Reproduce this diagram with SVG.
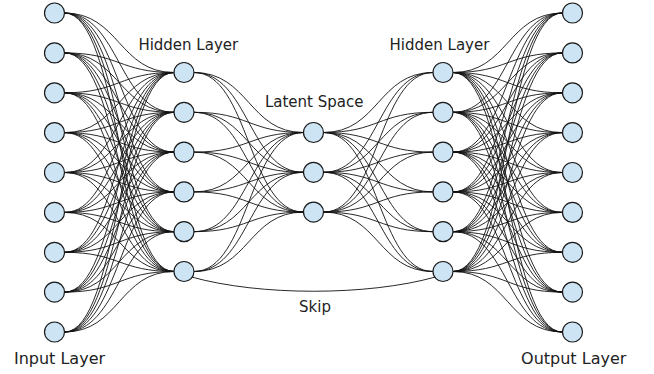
<svg xmlns="http://www.w3.org/2000/svg" width="654" height="374" viewBox="0 0 654 374">
<style>
.node{fill:#cde4f5;stroke:#1a1a1a;stroke-width:1.2}
.edge{fill:none;stroke:#111;stroke-width:0.9}
.lbl{font-family:"DejaVu Sans",Verdana,sans-serif;font-size:15px;fill:#222;text-anchor:middle}
.big{font-size:16px}
</style>
<rect width="654" height="374" fill="#fff"/>
<g id="connectors">
<path class="edge" d="M64.5 13C119.2 13 119.2 72.5 174 72.5"/>
<path class="edge" d="M64.5 13C119.2 13 119.2 112.3 174 112.3"/>
<path class="edge" d="M64.5 13C119.2 13 119.2 152.1 174 152.1"/>
<path class="edge" d="M64.5 13C119.2 13 119.2 191.9 174 191.9"/>
<path class="edge" d="M64.5 13C119.2 13 119.2 231.7 174 231.7"/>
<path class="edge" d="M64.5 13C119.2 13 119.2 271.5 174 271.5"/>
<path class="edge" d="M64.5 52.9C119.2 52.9 119.2 72.5 174 72.5"/>
<path class="edge" d="M64.5 52.9C119.2 52.9 119.2 112.3 174 112.3"/>
<path class="edge" d="M64.5 52.9C119.2 52.9 119.2 152.1 174 152.1"/>
<path class="edge" d="M64.5 52.9C119.2 52.9 119.2 191.9 174 191.9"/>
<path class="edge" d="M64.5 52.9C119.2 52.9 119.2 231.7 174 231.7"/>
<path class="edge" d="M64.5 52.9C119.2 52.9 119.2 271.5 174 271.5"/>
<path class="edge" d="M64.5 92.8C119.2 92.8 119.2 72.5 174 72.5"/>
<path class="edge" d="M64.5 92.8C119.2 92.8 119.2 112.3 174 112.3"/>
<path class="edge" d="M64.5 92.8C119.2 92.8 119.2 152.1 174 152.1"/>
<path class="edge" d="M64.5 92.8C119.2 92.8 119.2 191.9 174 191.9"/>
<path class="edge" d="M64.5 92.8C119.2 92.8 119.2 231.7 174 231.7"/>
<path class="edge" d="M64.5 92.8C119.2 92.8 119.2 271.5 174 271.5"/>
<path class="edge" d="M64.5 132.6C119.2 132.6 119.2 72.5 174 72.5"/>
<path class="edge" d="M64.5 132.6C119.2 132.6 119.2 112.3 174 112.3"/>
<path class="edge" d="M64.5 132.6C119.2 132.6 119.2 152.1 174 152.1"/>
<path class="edge" d="M64.5 132.6C119.2 132.6 119.2 191.9 174 191.9"/>
<path class="edge" d="M64.5 132.6C119.2 132.6 119.2 231.7 174 231.7"/>
<path class="edge" d="M64.5 132.6C119.2 132.6 119.2 271.5 174 271.5"/>
<path class="edge" d="M64.5 172.5C119.2 172.5 119.2 72.5 174 72.5"/>
<path class="edge" d="M64.5 172.5C119.2 172.5 119.2 112.3 174 112.3"/>
<path class="edge" d="M64.5 172.5C119.2 172.5 119.2 152.1 174 152.1"/>
<path class="edge" d="M64.5 172.5C119.2 172.5 119.2 191.9 174 191.9"/>
<path class="edge" d="M64.5 172.5C119.2 172.5 119.2 231.7 174 231.7"/>
<path class="edge" d="M64.5 172.5C119.2 172.5 119.2 271.5 174 271.5"/>
<path class="edge" d="M64.5 212.4C119.2 212.4 119.2 72.5 174 72.5"/>
<path class="edge" d="M64.5 212.4C119.2 212.4 119.2 112.3 174 112.3"/>
<path class="edge" d="M64.5 212.4C119.2 212.4 119.2 152.1 174 152.1"/>
<path class="edge" d="M64.5 212.4C119.2 212.4 119.2 191.9 174 191.9"/>
<path class="edge" d="M64.5 212.4C119.2 212.4 119.2 231.7 174 231.7"/>
<path class="edge" d="M64.5 212.4C119.2 212.4 119.2 271.5 174 271.5"/>
<path class="edge" d="M64.5 252.3C119.2 252.3 119.2 72.5 174 72.5"/>
<path class="edge" d="M64.5 252.3C119.2 252.3 119.2 112.3 174 112.3"/>
<path class="edge" d="M64.5 252.3C119.2 252.3 119.2 152.1 174 152.1"/>
<path class="edge" d="M64.5 252.3C119.2 252.3 119.2 191.9 174 191.9"/>
<path class="edge" d="M64.5 252.3C119.2 252.3 119.2 231.7 174 231.7"/>
<path class="edge" d="M64.5 252.3C119.2 252.3 119.2 271.5 174 271.5"/>
<path class="edge" d="M64.5 292.1C119.2 292.1 119.2 72.5 174 72.5"/>
<path class="edge" d="M64.5 292.1C119.2 292.1 119.2 112.3 174 112.3"/>
<path class="edge" d="M64.5 292.1C119.2 292.1 119.2 152.1 174 152.1"/>
<path class="edge" d="M64.5 292.1C119.2 292.1 119.2 191.9 174 191.9"/>
<path class="edge" d="M64.5 292.1C119.2 292.1 119.2 231.7 174 231.7"/>
<path class="edge" d="M64.5 292.1C119.2 292.1 119.2 271.5 174 271.5"/>
<path class="edge" d="M64.5 332C119.2 332 119.2 72.5 174 72.5"/>
<path class="edge" d="M64.5 332C119.2 332 119.2 112.3 174 112.3"/>
<path class="edge" d="M64.5 332C119.2 332 119.2 152.1 174 152.1"/>
<path class="edge" d="M64.5 332C119.2 332 119.2 191.9 174 191.9"/>
<path class="edge" d="M64.5 332C119.2 332 119.2 231.7 174 231.7"/>
<path class="edge" d="M64.5 332C119.2 332 119.2 271.5 174 271.5"/>
<path class="edge" d="M194 72.5C248.8 72.5 248.8 132.5 303.5 132.5"/>
<path class="edge" d="M194 72.5C248.8 72.5 248.8 172.3 303.5 172.3"/>
<path class="edge" d="M194 72.5C248.8 72.5 248.8 212.1 303.5 212.1"/>
<path class="edge" d="M194 112.3C248.8 112.3 248.8 132.5 303.5 132.5"/>
<path class="edge" d="M194 112.3C248.8 112.3 248.8 172.3 303.5 172.3"/>
<path class="edge" d="M194 112.3C248.8 112.3 248.8 212.1 303.5 212.1"/>
<path class="edge" d="M194 152.1C248.8 152.1 248.8 132.5 303.5 132.5"/>
<path class="edge" d="M194 152.1C248.8 152.1 248.8 172.3 303.5 172.3"/>
<path class="edge" d="M194 152.1C248.8 152.1 248.8 212.1 303.5 212.1"/>
<path class="edge" d="M194 191.9C248.8 191.9 248.8 132.5 303.5 132.5"/>
<path class="edge" d="M194 191.9C248.8 191.9 248.8 172.3 303.5 172.3"/>
<path class="edge" d="M194 191.9C248.8 191.9 248.8 212.1 303.5 212.1"/>
<path class="edge" d="M194 231.7C248.8 231.7 248.8 132.5 303.5 132.5"/>
<path class="edge" d="M194 231.7C248.8 231.7 248.8 172.3 303.5 172.3"/>
<path class="edge" d="M194 231.7C248.8 231.7 248.8 212.1 303.5 212.1"/>
<path class="edge" d="M194 271.5C248.8 271.5 248.8 132.5 303.5 132.5"/>
<path class="edge" d="M194 271.5C248.8 271.5 248.8 172.3 303.5 172.3"/>
<path class="edge" d="M194 271.5C248.8 271.5 248.8 212.1 303.5 212.1"/>
<path class="edge" d="M323.5 132.5C378.3 132.5 378.3 72.5 433 72.5"/>
<path class="edge" d="M323.5 132.5C378.3 132.5 378.3 112.3 433 112.3"/>
<path class="edge" d="M323.5 132.5C378.3 132.5 378.3 152.1 433 152.1"/>
<path class="edge" d="M323.5 132.5C378.3 132.5 378.3 191.9 433 191.9"/>
<path class="edge" d="M323.5 132.5C378.3 132.5 378.3 231.7 433 231.7"/>
<path class="edge" d="M323.5 132.5C378.3 132.5 378.3 271.5 433 271.5"/>
<path class="edge" d="M323.5 172.3C378.3 172.3 378.3 72.5 433 72.5"/>
<path class="edge" d="M323.5 172.3C378.3 172.3 378.3 112.3 433 112.3"/>
<path class="edge" d="M323.5 172.3C378.3 172.3 378.3 152.1 433 152.1"/>
<path class="edge" d="M323.5 172.3C378.3 172.3 378.3 191.9 433 191.9"/>
<path class="edge" d="M323.5 172.3C378.3 172.3 378.3 231.7 433 231.7"/>
<path class="edge" d="M323.5 172.3C378.3 172.3 378.3 271.5 433 271.5"/>
<path class="edge" d="M323.5 212.1C378.3 212.1 378.3 72.5 433 72.5"/>
<path class="edge" d="M323.5 212.1C378.3 212.1 378.3 112.3 433 112.3"/>
<path class="edge" d="M323.5 212.1C378.3 212.1 378.3 152.1 433 152.1"/>
<path class="edge" d="M323.5 212.1C378.3 212.1 378.3 191.9 433 191.9"/>
<path class="edge" d="M323.5 212.1C378.3 212.1 378.3 231.7 433 231.7"/>
<path class="edge" d="M323.5 212.1C378.3 212.1 378.3 271.5 433 271.5"/>
<path class="edge" d="M453 72.5C507.8 72.5 507.8 13 562.5 13"/>
<path class="edge" d="M453 72.5C507.8 72.5 507.8 52.9 562.5 52.9"/>
<path class="edge" d="M453 72.5C507.8 72.5 507.8 92.8 562.5 92.8"/>
<path class="edge" d="M453 72.5C507.8 72.5 507.8 132.6 562.5 132.6"/>
<path class="edge" d="M453 72.5C507.8 72.5 507.8 172.5 562.5 172.5"/>
<path class="edge" d="M453 72.5C507.8 72.5 507.8 212.4 562.5 212.4"/>
<path class="edge" d="M453 72.5C507.8 72.5 507.8 252.3 562.5 252.3"/>
<path class="edge" d="M453 72.5C507.8 72.5 507.8 292.1 562.5 292.1"/>
<path class="edge" d="M453 72.5C507.8 72.5 507.8 332 562.5 332"/>
<path class="edge" d="M453 112.3C507.8 112.3 507.8 13 562.5 13"/>
<path class="edge" d="M453 112.3C507.8 112.3 507.8 52.9 562.5 52.9"/>
<path class="edge" d="M453 112.3C507.8 112.3 507.8 92.8 562.5 92.8"/>
<path class="edge" d="M453 112.3C507.8 112.3 507.8 132.6 562.5 132.6"/>
<path class="edge" d="M453 112.3C507.8 112.3 507.8 172.5 562.5 172.5"/>
<path class="edge" d="M453 112.3C507.8 112.3 507.8 212.4 562.5 212.4"/>
<path class="edge" d="M453 112.3C507.8 112.3 507.8 252.3 562.5 252.3"/>
<path class="edge" d="M453 112.3C507.8 112.3 507.8 292.1 562.5 292.1"/>
<path class="edge" d="M453 112.3C507.8 112.3 507.8 332 562.5 332"/>
<path class="edge" d="M453 152.1C507.8 152.1 507.8 13 562.5 13"/>
<path class="edge" d="M453 152.1C507.8 152.1 507.8 52.9 562.5 52.9"/>
<path class="edge" d="M453 152.1C507.8 152.1 507.8 92.8 562.5 92.8"/>
<path class="edge" d="M453 152.1C507.8 152.1 507.8 132.6 562.5 132.6"/>
<path class="edge" d="M453 152.1C507.8 152.1 507.8 172.5 562.5 172.5"/>
<path class="edge" d="M453 152.1C507.8 152.1 507.8 212.4 562.5 212.4"/>
<path class="edge" d="M453 152.1C507.8 152.1 507.8 252.3 562.5 252.3"/>
<path class="edge" d="M453 152.1C507.8 152.1 507.8 292.1 562.5 292.1"/>
<path class="edge" d="M453 152.1C507.8 152.1 507.8 332 562.5 332"/>
<path class="edge" d="M453 191.9C507.8 191.9 507.8 13 562.5 13"/>
<path class="edge" d="M453 191.9C507.8 191.9 507.8 52.9 562.5 52.9"/>
<path class="edge" d="M453 191.9C507.8 191.9 507.8 92.8 562.5 92.8"/>
<path class="edge" d="M453 191.9C507.8 191.9 507.8 132.6 562.5 132.6"/>
<path class="edge" d="M453 191.9C507.8 191.9 507.8 172.5 562.5 172.5"/>
<path class="edge" d="M453 191.9C507.8 191.9 507.8 212.4 562.5 212.4"/>
<path class="edge" d="M453 191.9C507.8 191.9 507.8 252.3 562.5 252.3"/>
<path class="edge" d="M453 191.9C507.8 191.9 507.8 292.1 562.5 292.1"/>
<path class="edge" d="M453 191.9C507.8 191.9 507.8 332 562.5 332"/>
<path class="edge" d="M453 231.7C507.8 231.7 507.8 13 562.5 13"/>
<path class="edge" d="M453 231.7C507.8 231.7 507.8 52.9 562.5 52.9"/>
<path class="edge" d="M453 231.7C507.8 231.7 507.8 92.8 562.5 92.8"/>
<path class="edge" d="M453 231.7C507.8 231.7 507.8 132.6 562.5 132.6"/>
<path class="edge" d="M453 231.7C507.8 231.7 507.8 172.5 562.5 172.5"/>
<path class="edge" d="M453 231.7C507.8 231.7 507.8 212.4 562.5 212.4"/>
<path class="edge" d="M453 231.7C507.8 231.7 507.8 252.3 562.5 252.3"/>
<path class="edge" d="M453 231.7C507.8 231.7 507.8 292.1 562.5 292.1"/>
<path class="edge" d="M453 231.7C507.8 231.7 507.8 332 562.5 332"/>
<path class="edge" d="M453 271.5C507.8 271.5 507.8 13 562.5 13"/>
<path class="edge" d="M453 271.5C507.8 271.5 507.8 52.9 562.5 52.9"/>
<path class="edge" d="M453 271.5C507.8 271.5 507.8 92.8 562.5 92.8"/>
<path class="edge" d="M453 271.5C507.8 271.5 507.8 132.6 562.5 132.6"/>
<path class="edge" d="M453 271.5C507.8 271.5 507.8 172.5 562.5 172.5"/>
<path class="edge" d="M453 271.5C507.8 271.5 507.8 212.4 562.5 212.4"/>
<path class="edge" d="M453 271.5C507.8 271.5 507.8 252.3 562.5 252.3"/>
<path class="edge" d="M453 271.5C507.8 271.5 507.8 292.1 562.5 292.1"/>
<path class="edge" d="M453 271.5C507.8 271.5 507.8 332 562.5 332"/>
<path id="skip" class="edge" d="M191.5 277C260 296 367 296 435.5 277"/>
</g>
<g id="input-layer">
<circle class="node" cx="54.5" cy="13" r="10"/>
<circle class="node" cx="54.5" cy="52.9" r="10"/>
<circle class="node" cx="54.5" cy="92.8" r="10"/>
<circle class="node" cx="54.5" cy="132.6" r="10"/>
<circle class="node" cx="54.5" cy="172.5" r="10"/>
<circle class="node" cx="54.5" cy="212.4" r="10"/>
<circle class="node" cx="54.5" cy="252.3" r="10"/>
<circle class="node" cx="54.5" cy="292.1" r="10"/>
<circle class="node" cx="54.5" cy="332" r="10"/>
</g>
<g id="hidden-layer-1">
<circle class="node" cx="184" cy="72.5" r="10"/>
<circle class="node" cx="184" cy="112.3" r="10"/>
<circle class="node" cx="184" cy="152.1" r="10"/>
<circle class="node" cx="184" cy="191.9" r="10"/>
<circle class="node" cx="184" cy="231.7" r="10"/>
<circle class="node" cx="184" cy="271.5" r="10"/>
</g>
<g id="latent-space">
<circle class="node" cx="313.5" cy="132.5" r="10"/>
<circle class="node" cx="313.5" cy="172.3" r="10"/>
<circle class="node" cx="313.5" cy="212.1" r="10"/>
</g>
<g id="hidden-layer-2">
<circle class="node" cx="443" cy="72.5" r="10"/>
<circle class="node" cx="443" cy="112.3" r="10"/>
<circle class="node" cx="443" cy="152.1" r="10"/>
<circle class="node" cx="443" cy="191.9" r="10"/>
<circle class="node" cx="443" cy="231.7" r="10"/>
<circle class="node" cx="443" cy="271.5" r="10"/>
</g>
<g id="output-layer">
<circle class="node" cx="572.5" cy="13" r="10"/>
<circle class="node" cx="572.5" cy="52.9" r="10"/>
<circle class="node" cx="572.5" cy="92.8" r="10"/>
<circle class="node" cx="572.5" cy="132.6" r="10"/>
<circle class="node" cx="572.5" cy="172.5" r="10"/>
<circle class="node" cx="572.5" cy="212.4" r="10"/>
<circle class="node" cx="572.5" cy="252.3" r="10"/>
<circle class="node" cx="572.5" cy="292.1" r="10"/>
<circle class="node" cx="572.5" cy="332" r="10"/>
</g>
<g id="labels">
<text class="lbl" x="188.3" y="50">Hidden Layer</text>
<text class="lbl" x="439.5" y="50">Hidden Layer</text>
<text class="lbl" x="314.2" y="107.3">Latent Space</text>
<text class="lbl" x="315" y="312">Skip</text>
<text class="lbl big" x="59.5" y="364.3">Input Layer</text>
<text class="lbl big" x="573.7" y="364.3">Output Layer</text>
</g>
</svg>
